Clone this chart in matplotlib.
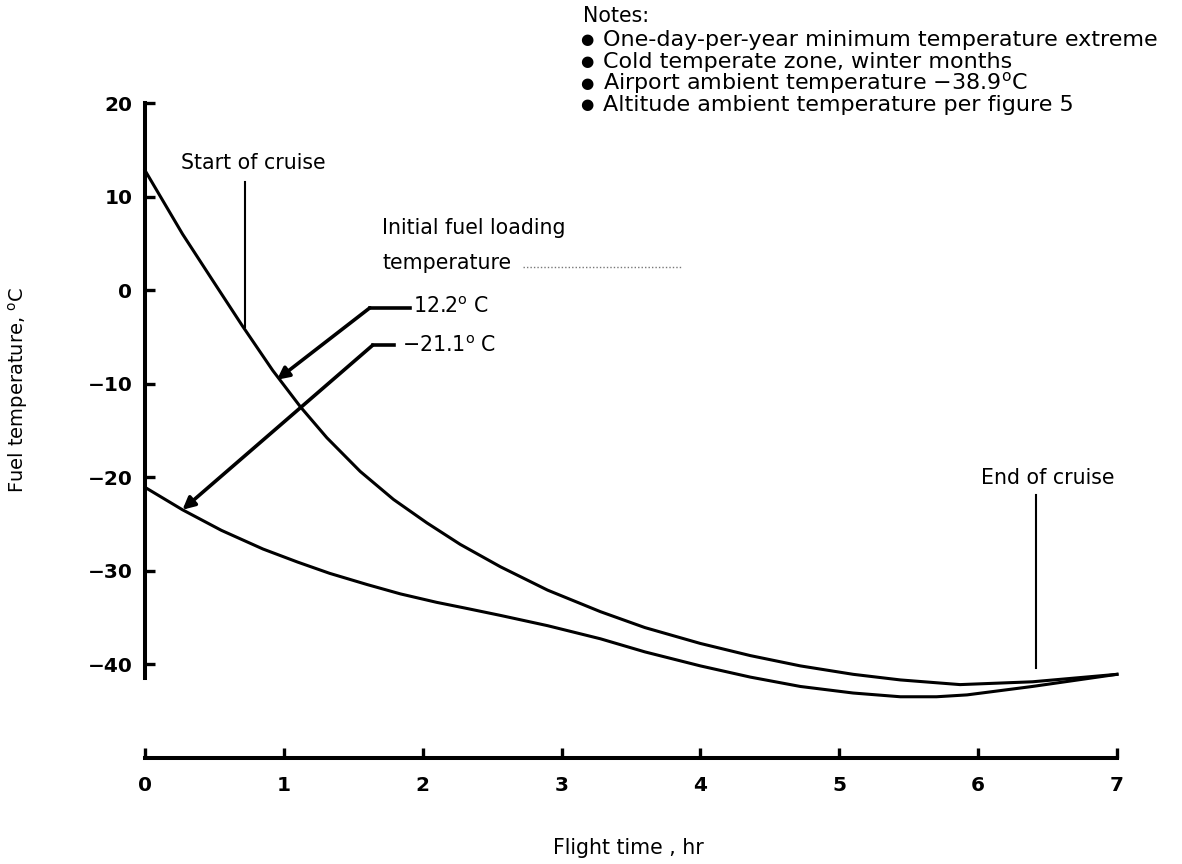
import matplotlib
matplotlib.use('Agg')
import matplotlib.pyplot as plt

# Fuel temperature traces (flight time hr, temperature degC)
t_warm = [0, 0.27, 0.48, 0.70, 0.92, 1.12, 1.31, 1.55, 1.79, 2.03, 2.27, 2.56,
          2.9, 3.28, 3.6, 4.0, 4.36, 4.72, 5.1, 5.44, 5.87, 6.39, 7.0]
temp_warm = [12.8, 6.0, 1.2, -3.8, -8.6, -12.5, -15.8, -19.4, -22.4, -24.9, -27.2, -29.6,
             -32.1, -34.4, -36.1, -37.8, -39.1, -40.2, -41.1, -41.7, -42.2, -41.9, -41.1]

t_cold = [0, 0.27, 0.55, 0.85, 1.1, 1.33, 1.6, 1.84, 2.1, 2.3, 2.56, 2.9, 3.28, 3.6,
          4.0, 4.36, 4.72, 5.1, 5.44, 5.7, 5.92, 6.39, 7.0]
temp_cold = [-21.1, -23.5, -25.7, -27.7, -29.1, -30.3, -31.5, -32.5, -33.4, -34.0, -34.8,
             -35.9, -37.3, -38.7, -40.2, -41.4, -42.4, -43.1, -43.5, -43.5, -43.3, -42.4, -41.1]

x_ticks = [0, 1, 2, 3, 4, 5, 6, 7]
y_ticks = [20, 10, 0, -10, -20, -30, -40]

notes = ['One-day-per-year minimum temperature extreme',
         'Cold temperate zone, winter months',
         'Airport ambient temperature \u221238.9$^\\mathrm{o}$C',
         'Altitude ambient temperature per figure 5']

plt.rcParams['font.family'] = ['DejaVu Sans']
plt.rcParams['mathtext.fontset'] = 'dejavusans'

fig = plt.figure(figsize=(11.82, 8.64), dpi=100)
ax = fig.add_axes([0.1109, 0.1124, 0.8576, 0.790])
ax.set_xlim(-0.1, 7.2)
ax.set_ylim(-51, 22)

# broken axes look: y spine at x=0, x spine at -50
for s in ['top', 'right']:
    ax.spines[s].set_visible(False)
ax.spines['left'].set_position(('data', 0))
ax.spines['left'].set_bounds(-41.5, 20)
ax.spines['bottom'].set_position(('data', -50))
ax.spines['bottom'].set_bounds(0, 7)
for s in ['left', 'bottom']:
    ax.spines[s].set_linewidth(2.9)

ax.set_xticks(x_ticks)
ax.set_yticks(y_ticks)
ax.tick_params(axis='both', direction='in', length=7, width=2.4, labelsize=14.5)
ax.tick_params(axis='x', pad=13)
ax.tick_params(axis='y', pad=9)
for lab in ax.get_xticklabels() + ax.get_yticklabels():
    lab.set_fontweight('bold')

ax.plot(t_warm, temp_warm, color='black', lw=2.2, solid_joinstyle='round')
ax.plot(t_cold, temp_cold, color='black', lw=2.2, solid_joinstyle='round')

fs = 14.8

# start / end of cruise markers
ax.plot([0.72, 0.72], [11.6, -4.0], color='black', lw=1.5)
ax.text(0.78, 13.6, 'Start of cruise', fontsize=fs, ha='center', va='center')
ax.plot([6.42, 6.42], [-21.9, -40.4], color='black', lw=1.5)
ax.text(6.5, -20.1, 'End of cruise', fontsize=fs, ha='center', va='center')

# initial fuel loading temperature callouts
ax.text(1.71, 6.6, 'Initial fuel loading', fontsize=fs, va='center')
ax.text(1.71, 2.9, 'temperature', fontsize=fs, va='center')
ax.plot([2.72, 3.87], [2.5, 2.5], color='#777777', lw=1.0, ls=(0, (1, 1.5)))

ax.plot([1.62, 1.91], [-1.9, -1.9], color='black', lw=2.6)
ax.annotate('', xy=(0.95, -9.6), xytext=(1.62, -1.9),
            arrowprops=dict(arrowstyle='-|>', color='black', lw=2.6,
                            mutation_scale=18, shrinkA=0, shrinkB=0))
ax.text(1.93, -1.8, '12.2$^\\mathrm{o}$ C', fontsize=fs, va='center')

ax.plot([1.64, 1.79], [-5.9, -5.9], color='black', lw=2.6)
ax.annotate('', xy=(0.27, -23.5), xytext=(1.64, -5.9),
            arrowprops=dict(arrowstyle='-|>', color='black', lw=2.6,
                            mutation_scale=18, shrinkA=0, shrinkB=0))
ax.text(1.85, -5.9, '\u221221.1$^\\mathrm{o}$ C', fontsize=fs, va='center')

# notes block
fig.text(583 / 1182, 1 - 16 / 864, 'Notes:', fontsize=fs, va='center')
for i, note in enumerate(notes):
    y = 1 - (40 + 21.6 * i) / 864
    fig.text(587 / 1182, y, '\u25CF', fontsize=11, va='center', ha='center')
    fig.text(603 / 1182, y, note, fontsize=16, va='center')

fig.text(628 / 1182, 1 - 848 / 864, 'Flight time , hr', fontsize=fs,
         ha='center', va='center')
fig.text(18 / 1182, 1 - 390 / 864, 'Fuel temperature, $^\\mathrm{o}$C', fontsize=14,
         ha='center', va='center', rotation=90)

fig.savefig('out.png', dpi=100)
